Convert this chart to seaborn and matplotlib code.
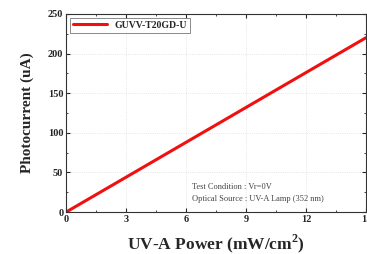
import matplotlib
matplotlib.use("Agg")
import matplotlib.pyplot as plt
import seaborn as sns
import pandas as pd
from matplotlib.ticker import MultipleLocator

power = [0, 3, 6, 9, 12, 15]
current = [0, 44, 88, 132, 176, 220]
series = "GUVV-T20GD-U"

sns.set_style("ticks")
plt.rcParams['font.family'] = ['Liberation Serif', 'DejaVu Serif']
plt.rcParams['mathtext.fontset'] = 'custom'
plt.rcParams['mathtext.rm'] = 'Liberation Serif'
plt.rcParams['mathtext.bf'] = 'Liberation Serif:bold'

df = pd.DataFrame({"power": power, "current": current})

fig = plt.figure(figsize=(3.67, 2.54), dpi=100)
ax = fig.add_axes([0.18, 0.165, 0.817, 0.78])
sns.lineplot(data=df, x="power", y="current", color="#f01010", linewidth=2.2,
             label=series, ax=ax)

ax.set_xlim(0, 15)
ax.set_ylim(0, 250)
ax.xaxis.set_major_locator(MultipleLocator(3))
ax.xaxis.set_minor_locator(MultipleLocator(1.5))
ax.yaxis.set_major_locator(MultipleLocator(50))
ax.yaxis.set_minor_locator(MultipleLocator(25))
ax.grid(True, which="major", color="#dddddd", linestyle=":", linewidth=0.6)
ax.tick_params(which="both", direction="in", top=True, right=True, labelsize=7.5, pad=2)
ax.tick_params(which="major", length=3, width=0.8)
ax.tick_params(which="minor", length=1.5, width=0.6)
for lbl in ax.get_xticklabels() + ax.get_yticklabels():
    lbl.set_fontweight("bold")
for s in ax.spines.values():
    s.set_linewidth(0.8)
    s.set_color("#333333")

ax.set_xlabel("UV-A Power (mW/cm$^{\\mathbf{2}}$)", fontsize=12.5, fontweight="bold", labelpad=6)
ax.set_ylabel("Photocurrent (uA)", fontsize=11, fontweight="bold", labelpad=10)

leg = ax.legend(loc="upper left", prop={"weight": "bold", "size": 7}, frameon=True,
                fancybox=False, edgecolor="#555555", handlelength=3.5,
                borderaxespad=0.4, borderpad=0.3)
leg.get_frame().set_linewidth(0.6)

ax.text(0.42, 0.115, "Test Condition : Vr=0V", transform=ax.transAxes, fontsize=6, color="#444444")
ax.text(0.42, 0.055, "Optical Source : UV-A Lamp (352 nm)", transform=ax.transAxes, fontsize=6, color="#444444")

fig.savefig("out.png", dpi=100)
